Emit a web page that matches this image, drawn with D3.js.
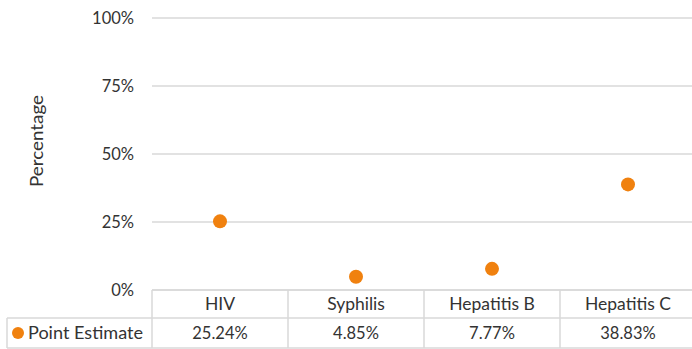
<!DOCTYPE html>
<html><head><meta charset="utf-8">
<script src="https://cdn.jsdelivr.net/npm/d3@7"></script>
<style>
html,body{margin:0;padding:0;background:#fff;}
svg{display:block;}
text{font-family:"Lato","Open Sans",sans-serif;fill:#333333;}
</style></head>
<body>
<svg id="chart" width="692" height="349"></svg>
<script>
const categories = ["HIV", "Syphilis", "Hepatitis B", "Hepatitis C"];
const pointEstimate = [25.24, 4.85, 7.77, 38.83];
const valueLabels = ["25.24%", "4.85%", "7.77%", "38.83%"];
const yTicks = [0, 25, 50, 75, 100];
const seriesName = "Point Estimate";
const yTitle = "Percentage";

(function () {
const W = 692, H = 349;
const plotLeft = 152, colW = 136;
const plotRight = plotLeft + colW * categories.length;
const plotTop = 18, plotBottom = 290;
const color = "#f0810f";
const gridColor = "#d9d9d9";

const svg = d3.select("#chart");

const x = d3.scaleBand().domain(categories).range([plotLeft, plotRight]).padding(0);
const y = d3.scaleLinear().domain([0, 100]).range([plotBottom, plotTop]);

// gridlines
svg.append("g").selectAll("line").data(yTicks).join("line")
  .attr("x1", plotLeft).attr("x2", W)
  .attr("y1", d => y(d)).attr("y2", d => y(d))
  .attr("stroke", gridColor).attr("stroke-width", 1.5);

// y tick labels
svg.append("g").selectAll("text").data(yTicks).join("text")
  .attr("x", 134).attr("y", d => y(d)).attr("dy", "0.35em")
  .attr("text-anchor", "end").attr("font-size", 16.5)
  .text(d => d + "%");

// y title
svg.append("text")
  .attr("transform", `translate(43,141) rotate(-90)`)
  .attr("text-anchor", "middle").attr("font-size", 17)
  .attr("textLength", 92).attr("lengthAdjust", "spacingAndGlyphs")
  .text(yTitle);

// table
const row1Top = plotBottom, row1Bot = 318, row2Bot = 348;
const tbl = svg.append("g").attr("stroke", gridColor).attr("stroke-width", 1.5).attr("fill", "none");
tbl.append("line").attr("x1", plotLeft).attr("x2", W).attr("y1", row1Top).attr("y2", row1Top);
tbl.append("line").attr("x1", 7).attr("x2", W).attr("y1", row1Bot).attr("y2", row1Bot);
tbl.append("line").attr("x1", 7).attr("x2", W).attr("y1", row2Bot).attr("y2", row2Bot);
const vx = [plotLeft].concat(categories.map(c => x(c) + x.bandwidth()));
tbl.selectAll("line.v").data(vx).join("line").attr("class", "v")
  .attr("x1", d => d).attr("x2", d => d).attr("y1", row1Top).attr("y2", row2Bot);
tbl.append("line").attr("x1", 7).attr("x2", 7).attr("y1", row1Bot).attr("y2", row2Bot);

// category labels
svg.append("g").selectAll("text").data(categories).join("text")
  .attr("x", d => x(d) + x.bandwidth() / 2).attr("y", (row1Top + row1Bot) / 2).attr("dy", "0.35em")
  .attr("text-anchor", "middle").attr("font-size", 17.5).text(d => d);

// value labels
svg.append("g").selectAll("text").data(valueLabels).join("text")
  .attr("x", (d, i) => x(categories[i]) + x.bandwidth() / 2).attr("y", (row1Bot + row2Bot) / 2).attr("dy", "0.35em")
  .attr("text-anchor", "middle").attr("font-size", 16.5).text(d => d);

// legend in table
svg.append("circle").attr("cx", 18).attr("cy", (row1Bot + row2Bot) / 2).attr("r", 6).attr("fill", color);
svg.append("text").attr("x", 28).attr("y", (row1Bot + row2Bot) / 2).attr("dy", "0.35em")
  .attr("font-size", 17).attr("textLength", 115).attr("lengthAdjust", "spacingAndGlyphs")
  .text(seriesName);

// points
svg.append("g").selectAll("circle").data(pointEstimate).join("circle")
  .attr("cx", (d, i) => x(categories[i]) + x.bandwidth() / 2)
  .attr("cy", d => y(d)).attr("r", 7).attr("fill", color);
})();
</script>
</body></html>
